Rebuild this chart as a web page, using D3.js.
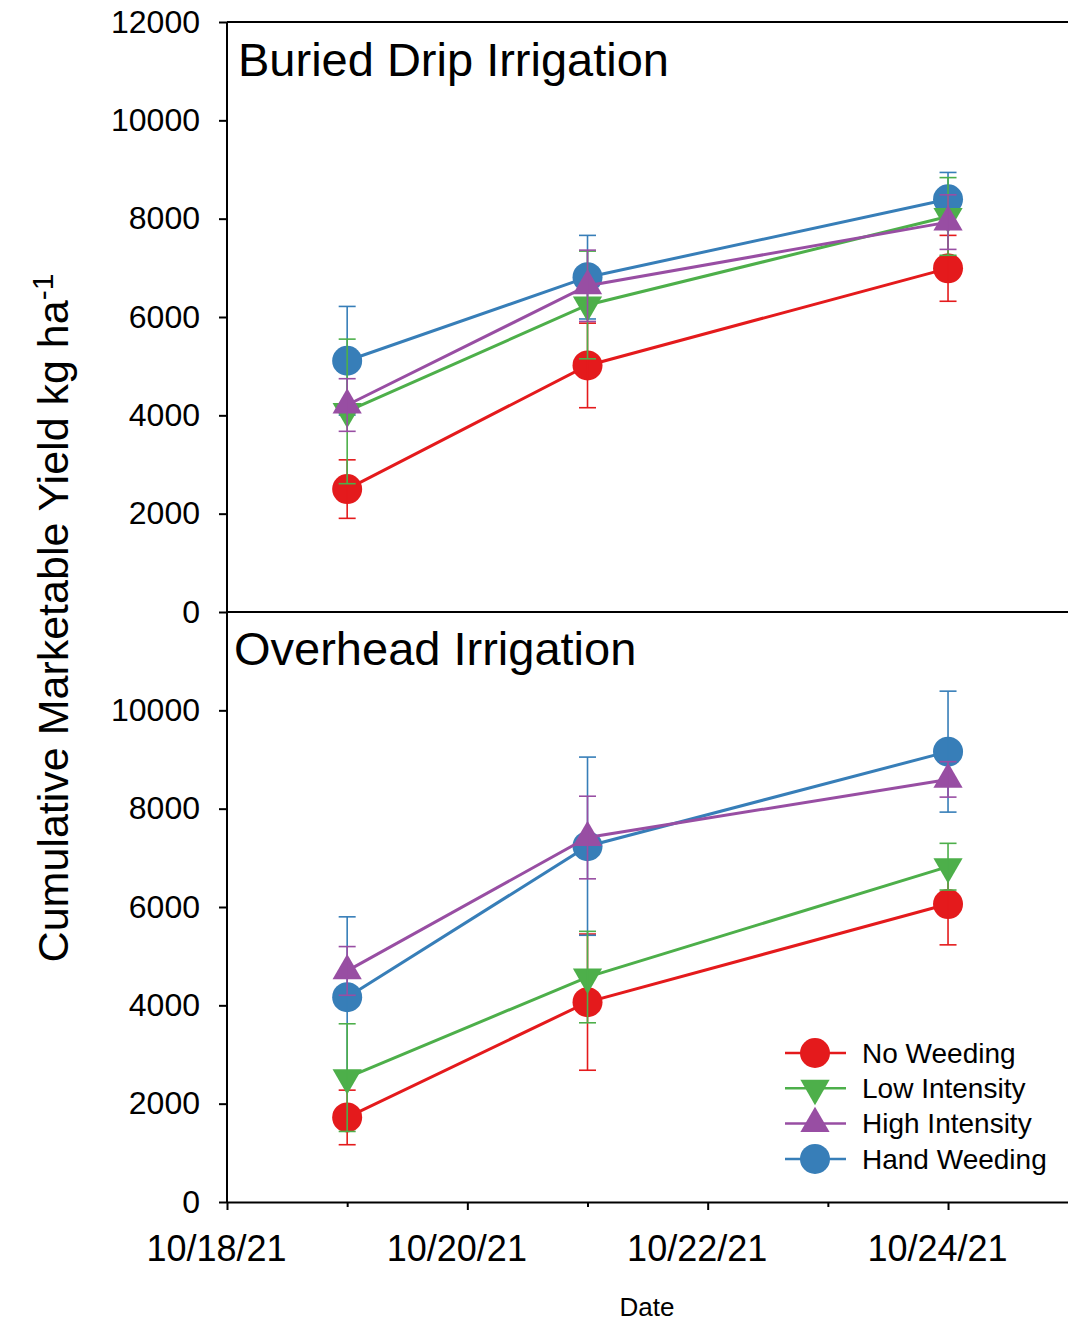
<!DOCTYPE html>
<html>
<head>
<meta charset="utf-8">
<script src="https://cdn.jsdelivr.net/npm/d3@7"></script>
<style>
  body { margin: 0; background: #fff; }
  svg { display: block; font-family: "Liberation Sans", Arial, sans-serif; }
  .axis path, .axis line { stroke: #000; stroke-width: 2px; }
  .axis text { fill: #000; }
</style>
</head>
<body>
<div id="chart"></div>
<script>
// harvest dates
const dates = ['2021-10-19', '2021-10-21', '2021-10-24'];
const seriesNames = ['No Weeding', 'Low Intensity', 'High Intensity', 'Hand Weeding'];
const panelTitles = ['Buried Drip Irrigation', 'Overhead Irrigation'];

// buried drip, mean and error
const dripNone = [2500, 5015, 6990];
const dripNoneErr = [595, 860, 670];
const dripLow = [4080, 6245, 8045];
const dripLowErr = [1470, 1095, 790];
const dripHigh = [4210, 6635, 7930];
const dripHighErr = [535, 725, 555];
const dripHand = [5110, 6810, 8395];
const dripHandErr = [1105, 850, 545];

// overhead, mean and error
const overNone = [1720, 4065, 6060];
const overNoneErr = [555, 1385, 830];
const overLow = [2530, 4575, 6820];
const overLowErr = [1095, 930, 475];
const overHigh = [4700, 7413, 8595];
const overHighErr = [495, 840, 360];
const overHand = [4165, 7237, 9160];
const overHandErr = [1635, 1812, 1230];

const topTicks = [0, 2000, 4000, 6000, 8000, 10000, 12000];
const bottomTicks = [0, 2000, 4000, 6000, 8000, 10000];
const majorDates = ['2021-10-18', '2021-10-20', '2021-10-22', '2021-10-24'];
const minorDates = ['2021-10-19', '2021-10-21', '2021-10-23'];

const colors = ['#e41a1c', '#4daf4a', '#984ea3', '#377eb8'];
const shapes = ['circle', 'down', 'up', 'circle'];

const width = 1068, height = 1321;
const left = 227, right = 1068.2;
const top1 = 22, mid = 612, bottom = 1202;

const parse = d3.timeParse('%Y-%m-%d');

const svg = d3.select('#chart').append('svg')
  .attr('width', width)
  .attr('height', height);

const x = d3.scaleTime()
  .domain([parse('2021-10-18'), parse('2021-10-25')])
  .range([left, right]);

const yTop = d3.scaleLinear().domain([0, 12000]).range([mid, top1]);
const yBottom = d3.scaleLinear().domain([0, 12000]).range([bottom, mid]);

const makePanel = (means, errs) => means.map((vals, s) => vals.map((v, j) => ({
  date: parse(dates[j]), value: v, err: errs[s][j]
})));

const panels = [
  { y: yTop, ticks: topTicks, title: panelTitles[0], titleY: 76, titleX: 238,
    data: makePanel([dripNone, dripLow, dripHigh, dripHand], [dripNoneErr, dripLowErr, dripHighErr, dripHandErr]) },
  { y: yBottom, ticks: bottomTicks, title: panelTitles[1], titleY: 665, titleX: 234,
    data: makePanel([overNone, overLow, overHigh, overHand], [overNoneErr, overLowErr, overHighErr, overHandErr]) }
];

const symbolPath = (shape) => {
  if (shape === 'circle') return d3.symbol().type(d3.symbolCircle).size(Math.PI * 15 * 15)();
  return d3.symbol().type(d3.symbolTriangle).size(370)();
};

const drawMarker = (g, shape, color, cx, cy) => {
  g.append('path')
    .attr('d', symbolPath(shape))
    .attr('transform', `translate(${cx},${cy})` + (shape === 'down' ? ' rotate(180)' : ''))
    .attr('fill', color);
};

// frame lines
svg.append('line')
  .attr('x1', left).attr('x2', right).attr('y1', top1).attr('y2', top1)
  .attr('stroke', '#000').attr('stroke-width', 2);
svg.append('line')
  .attr('x1', left).attr('x2', right).attr('y1', mid).attr('y2', mid)
  .attr('stroke', '#000').attr('stroke-width', 2);

panels.forEach(p => {
  svg.append('g')
    .attr('class', 'axis')
    .attr('transform', `translate(${left},0)`)
    .call(d3.axisLeft(p.y).tickValues(p.ticks).tickSize(8).tickSizeOuter(0).tickPadding(19).tickFormat(d3.format('d')))
    .call(g => g.select('.domain').attr('d', `M0,${p.y(0)}V${p.y(12000)}`))
    .selectAll('text').style('font-size', '32px');

  svg.append('text')
    .attr('x', p.titleX)
    .attr('y', p.titleY)
    .style('font-size', '47px')
    .text(p.title);

  const line = d3.line().x(d => x(d.date)).y(d => p.y(d.value));
  // draw order: red, blue, green, purple
  [0, 3, 1, 2].forEach(s => {
    const g = svg.append('g');
    const pts = p.data[s];
    g.append('path')
      .datum(pts)
      .attr('d', line)
      .attr('fill', 'none')
      .attr('stroke', colors[s])
      .attr('stroke-width', 3);
    pts.forEach(d => drawMarker(g, shapes[s], colors[s], x(d.date), p.y(d.value)));
    const eb = g.selectAll('.eb').data(pts).enter().append('g')
      .attr('stroke', colors[s]).attr('stroke-width', 1.6);
    eb.append('line')
      .attr('x1', d => x(d.date)).attr('x2', d => x(d.date))
      .attr('y1', d => p.y(d.value - d.err)).attr('y2', d => p.y(d.value + d.err));
    eb.append('line')
      .attr('x1', d => x(d.date) - 8.5).attr('x2', d => x(d.date) + 8.5)
      .attr('y1', d => p.y(d.value + d.err)).attr('y2', d => p.y(d.value + d.err));
    eb.append('line')
      .attr('x1', d => x(d.date) - 8.5).attr('x2', d => x(d.date) + 8.5)
      .attr('y1', d => p.y(d.value - d.err)).attr('y2', d => p.y(d.value - d.err));
  });
});

// x axis, major and minor ticks
svg.append('g')
  .attr('class', 'axis')
  .attr('transform', `translate(0,${bottom})`)
  .call(d3.axisBottom(x).tickValues(majorDates.map(parse)).tickSize(8).tickSizeOuter(0)
    .tickPadding(25).tickFormat(d3.timeFormat('%m/%d/%y')))
  .selectAll('text').style('font-size', '36px').attr('dx', -11);
svg.append('g')
  .attr('class', 'axis')
  .attr('transform', `translate(0,${bottom})`)
  .call(d3.axisBottom(x).tickValues(minorDates.map(parse)).tickSize(5).tickFormat(''))
  .call(g => g.select('.domain').remove());

svg.append('text')
  .attr('x', 647)
  .attr('y', 1316)
  .attr('text-anchor', 'middle')
  .style('font-size', '26px')
  .text('Date');

const ylab = svg.append('text')
  .attr('transform', 'translate(68,618) rotate(-90)')
  .attr('text-anchor', 'middle')
  .style('font-size', '43px');
ylab.append('tspan').text('Cumulative Marketable Yield kg ha');
ylab.append('tspan').attr('dy', -15).style('font-size', '30px').text('-1');

// legend
const legend = svg.append('g').attr('transform', 'translate(785,1053)');
seriesNames.forEach((name, i) => {
  const row = legend.append('g').attr('transform', `translate(0,${i * 35.3})`);
  row.append('line')
    .attr('x1', 0).attr('x2', 61)
    .attr('stroke', colors[i]).attr('stroke-width', 2.5);
  drawMarker(row, shapes[i], colors[i], 30, 0);
  row.append('text')
    .attr('x', 77)
    .attr('dy', '0.35em')
    .style('font-size', '28px')
    .text(name);
});
</script>
</body>
</html>
